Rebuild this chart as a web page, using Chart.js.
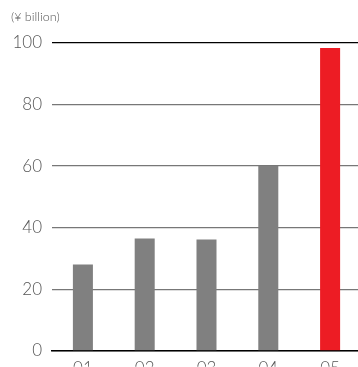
<!DOCTYPE html>
<html>
<head>
<meta charset="utf-8">
<script src="https://cdn.jsdelivr.net/npm/chart.js@4.4.1/dist/chart.umd.min.js"></script>
<style>
  html, body { margin: 0; padding: 0; background: #fff; overflow: hidden; }
  #wrap { position: relative; width: 361px; height: 367px; overflow: hidden; }
  #unit { position: absolute; left: 11px; top: 9px; font: 300 12.5px Lato, sans-serif; color: #555; }
</style>
</head>
<body>
<div id="wrap">
  <div id="unit">(¥ billion)</div>
  <canvas id="chart" width="361" height="371"></canvas>
</div>
<script>
let years = ['01', '02', '03', '04', '05'];
let values = [28, 36.5, 36.2, 60, 98.4];
let barColors = ['#808080', '#808080', '#808080', '#808080', '#ED1C24'];
let yTicks = [0, 20, 40, 60, 80, 100];

let chart = new Chart(document.getElementById('chart'), {
    type: 'bar',
    data: {
        labels: years,
        datasets: [{
            data: values,
            backgroundColor: barColors,
            borderWidth: 0,
            barPercentage: 0.324,
            categoryPercentage: 1
        }]
    },
    options: {
        responsive: false,
        animation: false,
        layout: { padding: { top: 43, right: 0, left: 0, bottom: 0 } },
        plugins: { legend: { display: false }, tooltip: { enabled: false } },
        scales: {
            x: {
                grid: { display: false, drawTicks: false },
                border: { color: '#000', width: 1.5 },
                ticks: { color: '#555', padding: 8, font: { family: 'Lato', size: 17, weight: 300 } },
                afterFit: scale => { scale.height = 16; }
            },
            y: {
                min: yTicks[0],
                max: yTicks[yTicks.length - 1],
                ticks: { stepSize: 20, color: '#555', padding: 10, font: { family: 'Lato', size: 17, weight: 300 } },
                grid: {
                    drawTicks: false,
                    color: ctx => (ctx.tick && ctx.tick.value === 100) ? '#000' : '#777',
                    lineWidth: 1.3
                },
                border: { display: false },
                afterFit: scale => { scale.width = 52; }
            }
        }
    }
});
</script>
</body>
</html>
